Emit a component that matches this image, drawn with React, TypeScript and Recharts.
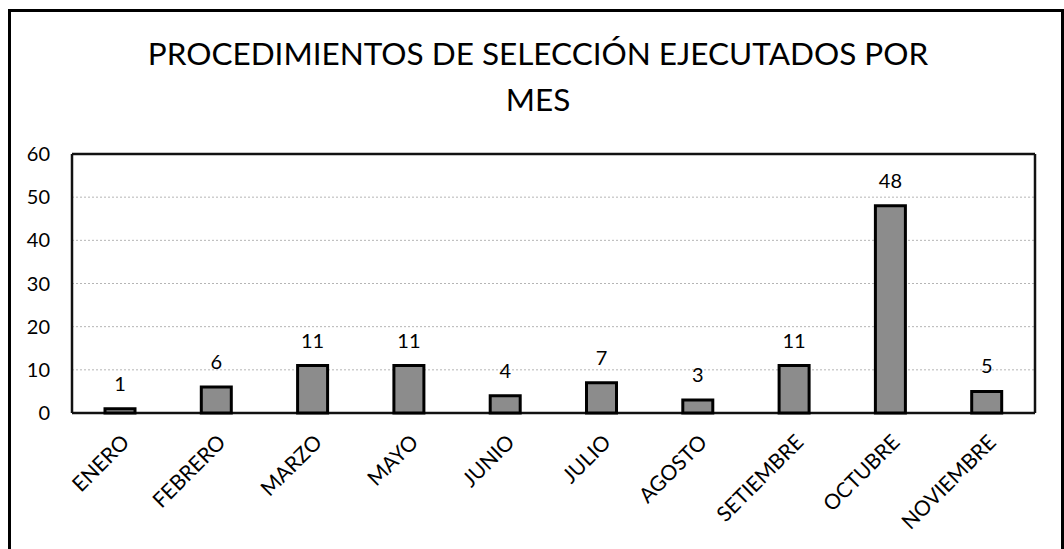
import { BarChart, Bar, XAxis, YAxis, CartesianGrid, LabelList } from 'recharts';

const months = ['ENERO', 'FEBRERO', 'MARZO', 'MAYO', 'JUNIO', 'JULIO', 'AGOSTO', 'SETIEMBRE', 'OCTUBRE', 'NOVIEMBRE'];
const procedures = [1, 6, 11, 11, 4, 7, 3, 11, 48, 5];
const yTicks = [0, 10, 20, 30, 40, 50, 60];

const data = months.map((m, i) => ({ mes: m, total: procedures[i] }));

const FONT = 'Lato, "Open Sans", sans-serif';

// frame of the plot area, taken from the chart's own offset
const frameRows = ({ offset }: any) => [offset.top, offset.top + offset.height];
const frameCols = ({ offset }: any) => [offset.left, offset.left + offset.width];

export default function App() {
  return (
    <div style={{ position: 'absolute', left: 0, top: 0, width: 1064, height: 549, overflow: 'hidden', background: '#fff', fontFamily: FONT }}>
      {/* outer frame, bottom edge runs off the page */}
      <div style={{ position: 'absolute', left: 8, top: 9, width: 1056, height: 600, boxSizing: 'border-box', border: '3px solid #000' }} />
      <div style={{ position: 'absolute', left: 0, top: 30, width: 1076, textAlign: 'center', fontSize: 31.5, lineHeight: '46px', color: '#000' }}>
        PROCEDIMIENTOS DE SELECCIÓN EJECUTADOS POR<br />MES
      </div>
      <BarChart width={1064} height={549} data={data} margin={{ top: 154, right: 29, left: 0, bottom: 36 }}
        style={{ position: 'absolute', left: 0, top: 0 }}>
        <CartesianGrid vertical={false} horizontalValues={[10, 20, 30, 40, 50]} stroke="#b5b5b5" strokeDasharray="2 2" />
        <CartesianGrid horizontalCoordinatesGenerator={frameRows} verticalCoordinatesGenerator={frameCols}
          stroke="#111" strokeWidth={2.5} />
        <XAxis dataKey="mes" interval={0} height={100} tickSize={0} tickMargin={20} axisLine={false}
          tick={{ fontSize: 21, fill: '#000', fontFamily: FONT, angle: -45, textAnchor: 'end' } as any} />
        <YAxis domain={[0, 60]} ticks={yTicks} width={72} tickLine={false} tickSize={6} tickMargin={16} axisLine={false}
          tick={{ fontSize: 20, fill: '#000', fontFamily: FONT }} />
        <Bar dataKey="total" barSize={30} fill="#8c8c8c" stroke="#000" strokeWidth={3} isAnimationActive={false}>
          <LabelList dataKey="total" position="top" offset={18} fill="#000" fontSize={20} fontFamily={FONT} />
        </Bar>
      </BarChart>
    </div>
  );
}
